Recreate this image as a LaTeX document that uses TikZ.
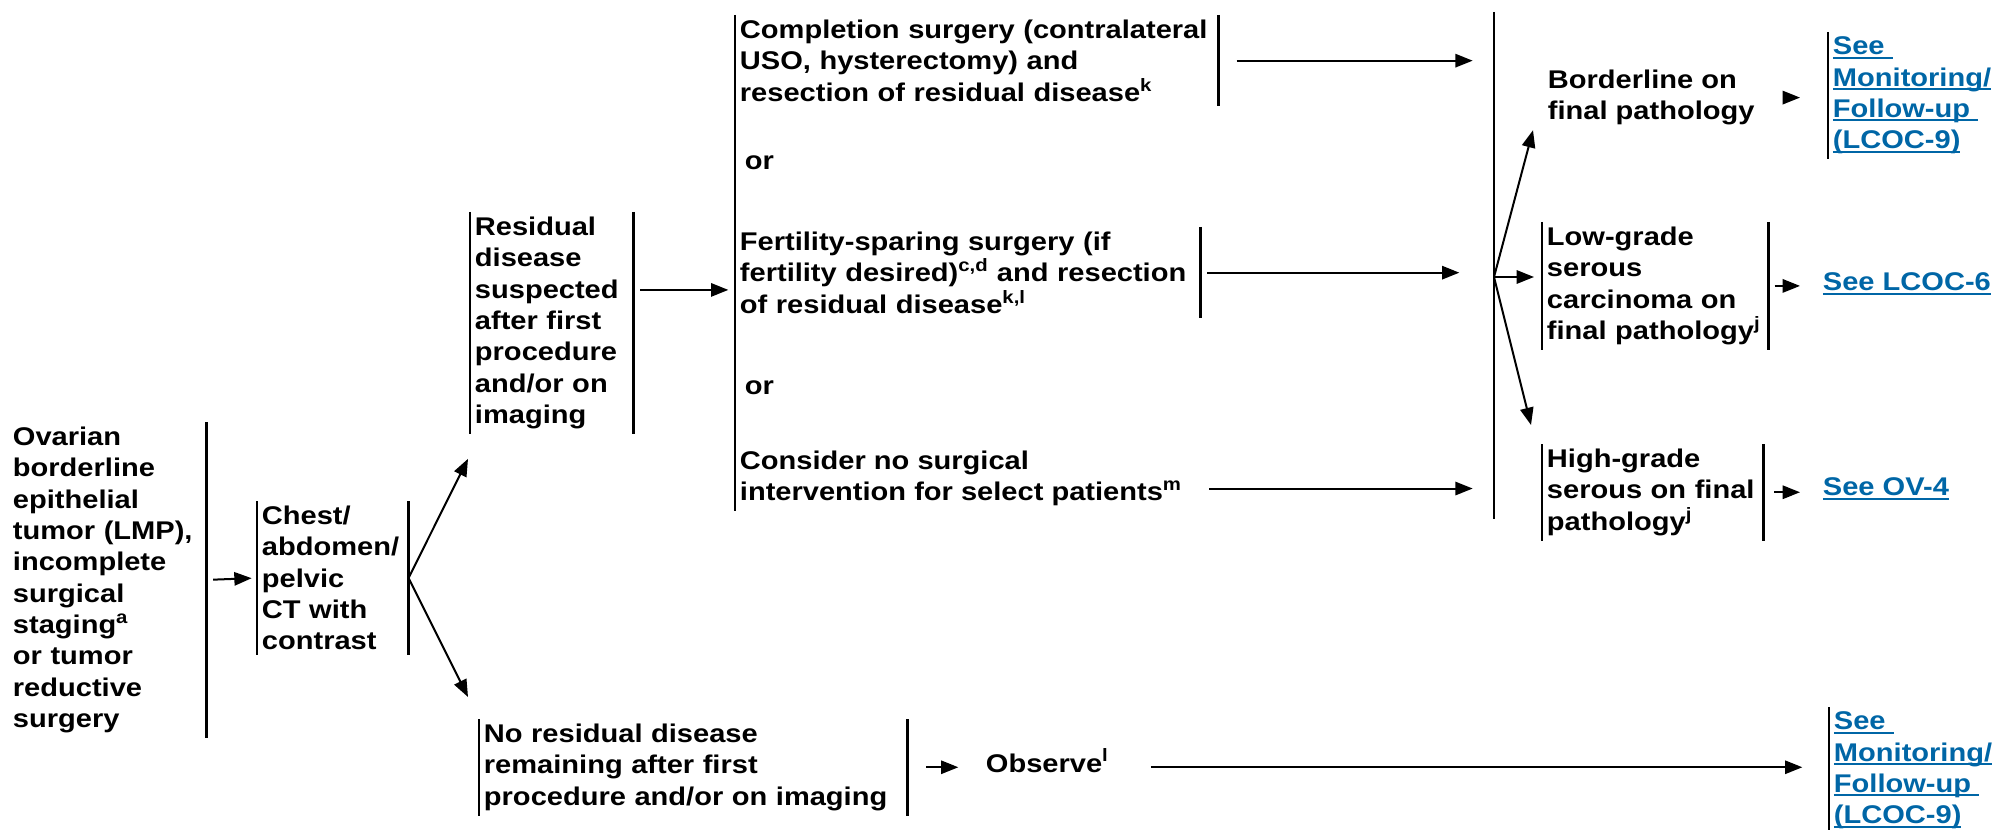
\documentclass[tikz,border=0pt]{standalone}
\usepackage{fontspec}
\setmainfont{Liberation Sans}[FakeStretch=1.135]
\usepackage{tikz}
\usetikzlibrary{positioning,arrows.meta,calc}
\definecolor{linkblue}{RGB}{0,102,166}
\newcommand{\seelink}[1]{\setbox0\hbox{#1}\rlap{\rule[-3pt]{\wd0}{1.5pt}}\box0}

\begin{document}
\begin{tikzpicture}[x=0.75pt,y=0.75pt,yscale=-1,xscale=1,
  every node/.style={font=\fontsize{19.2}{23.5}\selectfont\bfseries, inner xsep=3.5pt, inner ysep=3.5pt, align=left},
  optbox/.style={anchor=north west, text width=#1},
  txt/.style={anchor=north west},
  link/.style={text=linkblue},
  bar/.style={line width=1.75pt},
  arr/.style={line width=1.5pt, -{Triangle[length=13pt,width=10pt]}}
]
\useasboundingbox (0,0) rectangle (1997,830);

% Text Node
\node[optbox=141.5pt] (ovarian) at (8,422) {Ovarian\\ borderline\\ epithelial\\ tumor (LMP),\\ incomplete\\ surgical\\ staging\textsuperscript{a}\\ or tumor\\ reductive\\ surgery};
% Text Node
\node[optbox=106.25pt] (chest) at (257,501) {Chest/\\ abdomen/\\ pelvic\\ CT with\\ contrast};
% Text Node
\node[optbox=115.25pt] (resid) at (470,212) {Residual\\ disease\\ suspected\\ after first\\ procedure\\ and/or on\\ imaging};
% Text Node
\node[optbox=314pt] (nores) at (479,719) {No residual disease\\ remaining after first\\ procedure and/or on imaging};
% Text Node
\node[anchor=base west] (obs) at (981,772) {Observe\textsuperscript{l}};

% Text Node
\node[optbox=355.25pt] (compl) at (735,15) {Completion surgery (contralateral\\ USO, hysterectomy) and\\ resection of residual disease\textsuperscript{k}};
% Text Node
\node[anchor=base west] (or1) at (740,170) {or};
% Text Node
\node[optbox=341.75pt] (fert) at (735,227) {Fertility-sparing surgery (if\\ fertility desired)\textsuperscript{c,d} and resection\\ of residual disease\textsuperscript{k,l}};
% Text Node
\node[anchor=base west] (or2) at (740,394) {or};
% Text Node
\node[txt] (consid) at (735,446) {Consider no surgical\\ intervention for select patients\textsuperscript{m}};

% Text Node
\node[txt] (bord) at (1543,65) {Borderline on\\ final pathology};
% Text Node
\node[optbox=162.5pt] (low) at (1542,222) {Low-grade\\ serous\\ carcinoma on\\ final pathology\textsuperscript{j}};
% Text Node
\node[optbox=158.75pt] (high) at (1542,444) {High-grade\\ serous on final\\ pathology\textsuperscript{j}};

% Links
\node[txt, link] (link1) at (1828,32) {\seelink{See\ }\\ \seelink{Monitoring/}\\ \seelink{Follow-up\ }\\ \seelink{(LCOC-9)}};
\node[anchor=west, link] (link2) at (1818,284) {\seelink{See LCOC-6}};
\node[anchor=west, link] (link3) at (1818,489) {\seelink{See OV-4}};
\node[txt, link] (link4) at (1829,707) {\seelink{See\ }\\ \seelink{Monitoring/}\\ \seelink{Follow-up\ }\\ \seelink{(LCOC-9)}};

% Bars
\foreach \n in {chest,resid,low,high,nores}
  \draw[bar] (\n.north west) -- (\n.south west) (\n.north east) -- (\n.south east);
\foreach \n in {ovarian,compl,fert}
  \draw[bar] (\n.north east) -- (\n.south east);
\foreach \n in {link1,link4}
  \draw[bar] (\n.north west) -- (\n.south west);
\draw[bar] (compl.north west) -- (consid.south west);
\coordinate (rtop) at (1494,12);
\coordinate (rbot) at (1494,519);
\draw[bar] (rtop) -- (rbot);
\coordinate (fork) at (1494,277);

% Arrows
\draw[arr, shorten <=5pt, shorten >=4pt] (ovarian.east) -- (chest.west);
\coordinate (upA) at ($(resid.south west)+(-2,25)$);
\coordinate (downA) at ($(nores.north west)+(-11,-22)$);
\draw[arr] (chest.east) -- (upA);
\draw[arr] (chest.east) -- (downA);
\draw[arr, shorten <=5pt, shorten >=5pt] ($(resid.east)+(0,-33)$) -- ($(resid.east -| compl.west)+(0,-33)$);
\draw[arr, shorten <=13.5pt, shorten >=16pt] (compl.east) -- (compl.east -| rtop);
\draw[arr, shorten <=5pt, shorten >=26pt] (fert.east) -- (fert.east -| rtop);
\draw[arr, shorten <=17pt, shorten >=16pt] ($(consid.east)+(0,10)$) -- ($(consid.east -| rtop)+(0,10)$);

\draw[arr] (fork) -- ($(bord.south west)+(-10,0)$);
\draw[arr, shorten >=6pt] (fork) -- (fork -| low.west);
\draw[arr] (fork) -- ($(high.north west)+(-11,-19)$);

\draw[arr, shorten <=24pt, shorten >=21pt] (bord.east) -- (bord.east -| link1.west);
\draw[arr, shorten <=4.5pt, shorten >=13.5pt] (low.east) -- (low.east -| link2.west);
\draw[arr, shorten <=8pt, shorten >=13.5pt] (high.east) -- (high.east -| link3.west);
\draw[arr, shorten <=14pt, shorten >=17pt] (nores.east) -- (nores.east -| obs.west);
\draw[arr, shorten <=28pt, shorten >=20pt] (nores.east -| obs.east) -- (nores.east -| link4.west);

\end{tikzpicture}
\end{document}
